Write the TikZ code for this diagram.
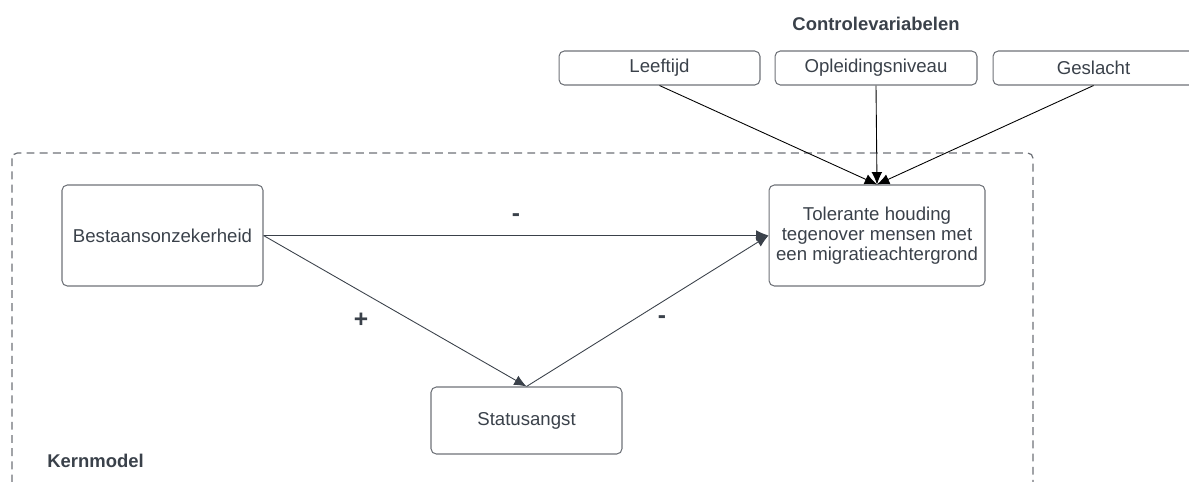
\documentclass[tikz,border=0pt]{standalone}
\usepackage{fontspec}
\setmainfont{Liberation Sans}
\usetikzlibrary{arrows.meta}
\definecolor{txtgray}{HTML}{3A414A}
\definecolor{boxgray}{HTML}{6E7278}

\begin{document}
\begin{tikzpicture}[x=0.02cm,y=-0.02cm,
  var/.style={draw=boxgray,line width=.6pt,rounded corners=3pt,text=txtgray,
    font=\fontsize{10.6}{11.4}\selectfont,align=center,inner sep=0pt},
  head/.style={text=txtgray,font=\fontsize{10.5}{12}\selectfont\bfseries,inner sep=0pt},
  sign/.style={text=txtgray,font=\fontsize{14}{14}\selectfont\bfseries,inner sep=0pt},
  ctrl/.style={-{Latex[length=7pt,width=6pt]},line width=.5pt,black},
  path/.style={-{Latex[length=7pt,width=6pt]},line width=.5pt,txtgray}]
  \useasboundingbox (0,0) rectangle (1189,481);
  \clip (0,0) rectangle (1189,481);
  % kernmodel frame
  \draw[boxgray,line width=.7pt,dash pattern=on 4.5pt off 3pt,rounded corners=3pt]
    (12,153) rectangle (1033,520);
  \node[head,anchor=west] (kern) at (47,461) {Kernmodel};
  % control variables
  \node[head] (ctitle) at (876,24) {Controlevariabelen};
  \node[var,minimum width=4.02cm,minimum height=.68cm] (age) at (659.5,68) {Leeftijd};
  \node[var,minimum width=4.04cm,minimum height=.68cm] (edu) at (876,68) {Opleidingsniveau};
  \node[var,minimum width=4.02cm,minimum height=.68cm] (sex) at (1093.5,68) {Geslacht};
  % core model
  \node[var,minimum width=4.02cm,minimum height=2.02cm] (unsafe) at (162.5,235.5) {Bestaansonzekerheid};
  \node[var,minimum width=4.32cm,minimum height=2.02cm] (toler) at (877,235.5)
    {Tolerante houding\\tegenover mensen met\\een migratieachtergrond};
  \node[var,minimum width=3.82cm,minimum height=1.34cm] (status) at (526.5,420.5) {Statusangst};
  \draw[ctrl] (age.south) -- (toler.north);
  \draw[ctrl] (edu.south) -- (toler.north);
  \draw[ctrl] (sex.south) -- (toler.north);
  \draw[path] (unsafe.east) -- (toler.west);
  \draw[path] (unsafe.east) -- (status.north);
  \draw[path] (status.north) -- (toler.west);
  \node[sign] (s1) at (516,218) {-};
  \node[sign] (s2) at (361,320) {+};
  \node[sign] (s3) at (662,320) {-};
\end{tikzpicture}
\end{document}
